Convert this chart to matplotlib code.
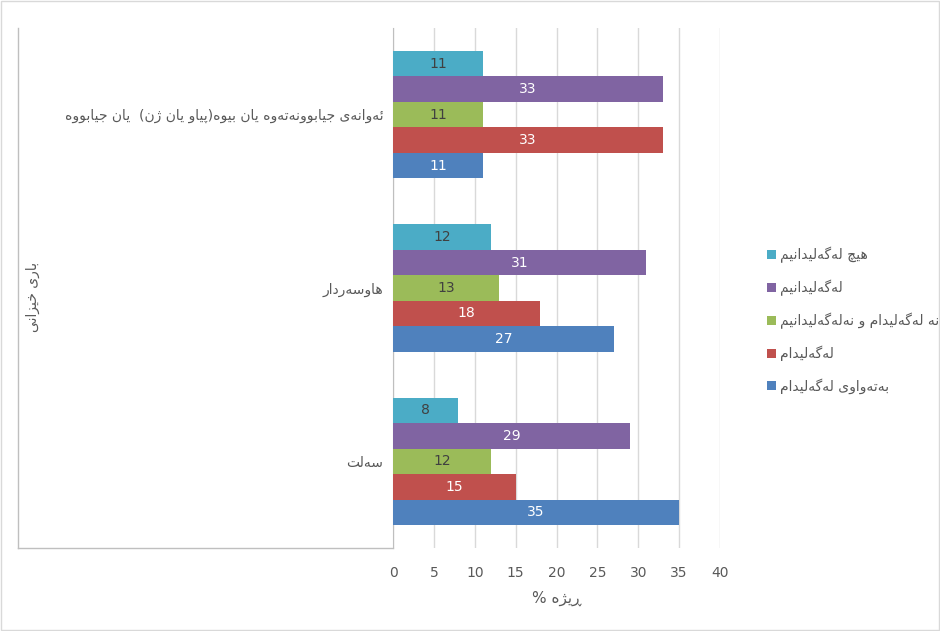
import matplotlib
matplotlib.use('Agg')
import matplotlib.pyplot as plt
import numpy as np

# values, bottom category first
categories = ['سەڵت', 'هاوسەردار',
              'ئەوانەی جیابوونەتەوە یان بێوە(پیاو یان ژن)  یان جیابووە']
series = ['بەتەواوی لەگەڵیدام', 'لەگەڵیدام', 'نە لەگەڵیدام و نەلەگەڵیدانیم',
          'لەگەڵیدانیم', 'هیچ لەگەڵیدانیم']
values_blue = [35, 27, 11]
values_red = [15, 18, 33]
values_green = [12, 13, 11]
values_purple = [29, 31, 33]
values_teal = [8, 12, 11]
colors = ['#4F81BD', '#C0504D', '#9BBB59', '#8064A2', '#4BACC6']
label_colors = ['white', 'white', '#404040', 'white', '#404040']
xticks = [0, 5, 10, 15, 20, 25, 30, 35, 40]
xlabel = 'ڕێژە %'
ylabel = 'باری خێزانی'

# matplotlib does no arabic shaping, so pick presentation forms by hand
# dual joining letters: isolated, final, initial, medial
DUAL = {
    'ب': '\ufe8f\ufe90\ufe91\ufe92',
    'پ': '\ufb56\ufb57\ufb58\ufb59',
    'ت': '\ufe95\ufe96\ufe97\ufe98',
    'ج': '\ufe9d\ufe9e\ufe9f\ufea0',
    'چ': '\ufb7a\ufb7b\ufb7c\ufb7d',
    'خ': '\ufea5\ufea6\ufea7\ufea8',
    'س': '\ufeb1\ufeb2\ufeb3\ufeb4',
    'گ': '\ufb92\ufb93\ufb94\ufb95',
    'ل': '\ufedd\ufede\ufedf\ufee0',
    '\u06b5': '\u06b5\ufede\ufedf\ufee0',
    'م': '\ufee1\ufee2\ufee3\ufee4',
    'ن': '\ufee5\ufee6\ufee7\ufee8',
    'ه': '\ufee9\ufeea\ufeeb\ufeec',
    'ی': '\ufbfc\ufbfd\ufbfe\ufbff',
    '\u06ce': '\u06ce\ufbfd\ufbfe\ufbff',
    'ئ': '\ufe89\ufe8a\ufe8b\ufe8c',
}
# right joining letters: isolated, final
RIGHT = {
    'ا': '\ufe8d\ufe8e',
    'د': '\ufea9\ufeaa',
    'ر': '\ufead\ufeae',
    '\u0695': '\u0695\ufeae',
    'ز': '\ufeaf\ufeb0',
    'ژ': '\ufb8a\ufb8b',
    'و': '\ufeed\ufeee',
    '\u06d5': '\u06d5\ufeea',
}


def shape(s):
    out = []
    for i, ch in enumerate(s):
        prev = s[i - 1] if i > 0 else ''
        nxt = s[i + 1] if i + 1 < len(s) else ''
        jp = prev in DUAL
        if ch in DUAL:
            jn = nxt in DUAL or nxt in RIGHT
            out.append(DUAL[ch][jp + 2 * jn])
        elif ch in RIGHT:
            out.append(RIGHT[ch][1 if jp else 0])
        else:
            out.append(ch)
    vis = ''.join(out)[::-1]
    return vis.translate(str.maketrans('()', ')('))


grey = '#595959'
plt.rcParams['font.family'] = ['DejaVu Sans']

fig = plt.figure(figsize=(9.4, 6.31), dpi=100)
ax = fig.add_axes([393 / 940, 1 - 548 / 631, 327 / 940, 520 / 631])

data = [values_blue, values_red, values_green, values_purple, values_teal]
y = np.arange(len(categories))
h = 0.147
handles = []
for k, vals in enumerate(data):
    pos = y + (k - 2) * h
    b = ax.barh(pos, vals, height=h, color=colors[k], zorder=3)
    handles.append(b)
    for p, v in zip(pos, vals):
        ax.text(v / 2, p, str(v), ha='center', va='center', fontsize=10,
                color=label_colors[k], zorder=4)

ax.set_xlim(0, 40)
ax.set_ylim(-0.5, len(categories) - 0.5)
ax.set_xticks(xticks)
ax.set_xticklabels([str(t) for t in xticks], color=grey, fontsize=10)
ax.set_yticks(y)
ax.set_yticklabels([shape(c) for c in categories], color=grey, fontsize=10)
ax.tick_params(axis='both', length=0)
ax.tick_params(axis='y', pad=7)
ax.tick_params(axis='x', pad=13)
ax.grid(axis='x', color='#d9d9d9', lw=1, zorder=0)
for sp in ['top', 'right', 'bottom']:
    ax.spines[sp].set_visible(False)
ax.spines['left'].set_color('#bfbfbf')
ax.set_xlabel(shape(xlabel), color=grey, fontsize=11, labelpad=8)

# category box lines left of the axis
ax.plot([-375 / 327, 0], [0, 0], transform=ax.transAxes,
        color='#bfbfbf', lw=1, clip_on=False)
ax.plot([-375 / 327, -375 / 327], [0, 1], transform=ax.transAxes,
        color='#bfbfbf', lw=1, clip_on=False)

fig.text(33 / 940, 1 - 297 / 631, shape(ylabel), rotation=90, ha='center',
         va='center', color=grey, fontsize=10)

leg = fig.legend(handles[::-1], [shape(s) for s in series[::-1]],
                 loc='upper left', bbox_to_anchor=(760 / 940, 1 - 240 / 631),
                 frameon=False, handlelength=0.65, handleheight=0.65,
                 handletextpad=0.3, labelspacing=1.2, borderpad=0, fontsize=10)
for t in leg.get_texts():
    t.set_color(grey)

fig.patches.append(plt.Rectangle((0.001, 0.001), 0.998, 0.998, transform=fig.transFigure,
                                 fill=False, edgecolor='#d9d9d9', lw=1))

fig.savefig('out.png', dpi=100)
